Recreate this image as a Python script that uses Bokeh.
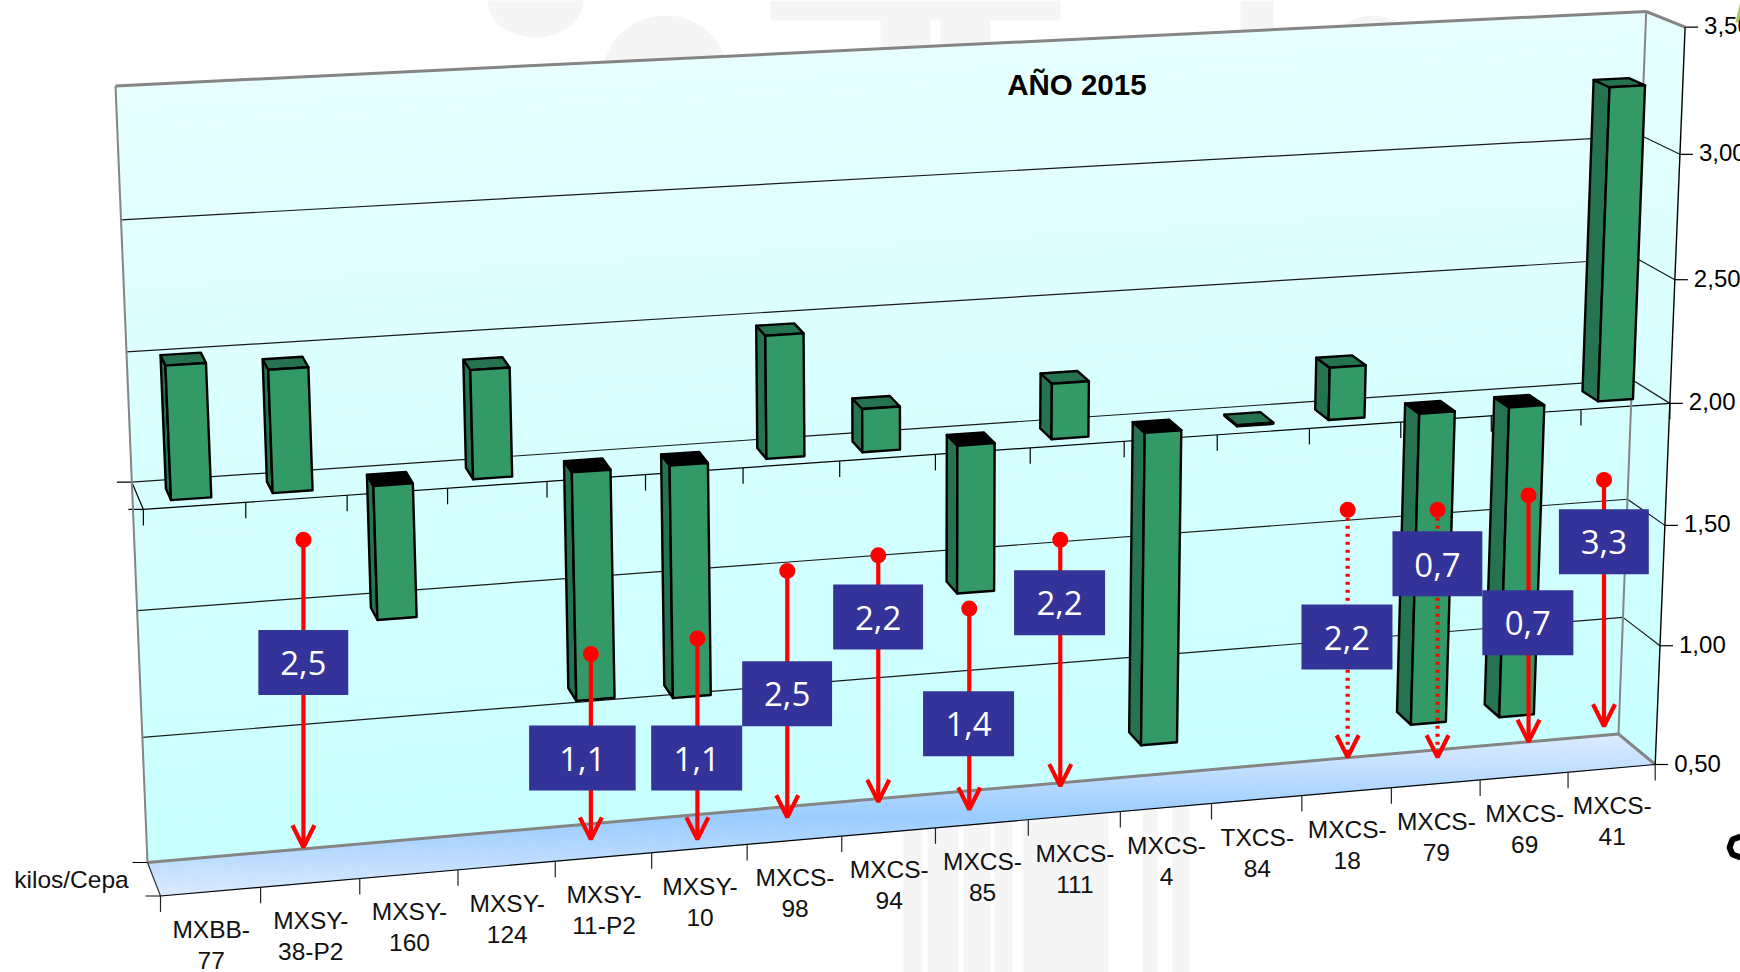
import numpy as np
from bokeh.plotting import figure
from bokeh.models import Range1d
from bokeh.core.properties import value
from bokeh.embed import file_html
from bokeh.resources import INLINE

# ---------- data ----------
categories = [("MXBB-", "77"), ("MXSY-", "38-P2"), ("MXSY-", "160"), ("MXSY-", "124"),
              ("MXSY-", "11-P2"), ("MXSY-", "10"), ("MXCS-", "98"), ("MXCS-", "94"),
              ("MXCS-", "85"), ("MXCS-", "111"), ("MXCS-", "4"), ("TXCS-", "84"),
              ("MXCS-", "18"), ("MXCS-", "79"), ("MXCS-", "69"), ("MXCS-", "41")]
kilos = [2.51, 2.47, 1.48, 2.42, 1.1, 1.08, 2.48, 2.17, 1.41, 2.22, 0.73, 2.005, 2.21, 0.72, 0.72, 3.26]
axis_base = 2.0
y_ticks = [0.5, 1.0, 1.5, 2.0, 2.5, 3.0, 3.5]
y_tick_labels = ["0,50", "1,00", "1,50", "2,00", "2,50", "3,00", "3,50"]
title_text = "AÑO 2015"
y_title = "kilos/Cepa"
note_labels = ["2,5", "1,1", "1,1", "2,5", "2,2", "1,4", "2,2", "2,2", "0,7", "0,7", "3,3"]
note_dotted = [False, False, False, False, False, False, False, True, True, False, False]

# ---------- hand-placed annotation layout (picture pixels) ----------
S = 1740 / 1568
note_x = [273, 532, 628, 709, 791, 873, 955, 1214, 1295, 1377, 1445]
note_top = [486, 589, 575, 514, 500, 548, 486, 459, 459, 446, 432]
note_tip = [763, 756, 756, 736, 722, 729, 708, 682, 682, 668, 654]
box_x0 = [233, 477, 587, 669, 751, 832, 914, 1173, 1255, 1336, 1405]
box_x1 = [314, 573, 669, 750, 832, 914, 996, 1255, 1336, 1418, 1486]
box_y0 = [568, 654, 654, 596, 527, 623, 514, 545, 479, 532, 459]

# ---------- 3D projection of the chart box ----------
def quad_h(q):
    (x0, y0), (x1, y1), (x2, y2), (x3, y3) = q
    dx1, dx2, sx = x1 - x2, x3 - x2, x0 - x1 + x2 - x3
    dy1, dy2, sy = y1 - y2, y3 - y2, y0 - y1 + y2 - y3
    det = dx1 * dy2 - dx2 * dy1
    g = (sx * dy2 - dx2 * sy) / det
    h = (dx1 * sy - sx * dy1) / det
    return np.array([[x1 - x0 + g * x1, x3 - x0 + h * x3, x0],
                     [y1 - y0 + g * y1, y3 - y0 + h * y3, y0],
                     [g, h, 1.0]])

BACK = quad_h([(147, 862), (1618, 733.5), (1645.7, 11), (115, 85.4)])
FRONT = quad_h([(160, 895.5), (1654.7, 764), (1684.6, 26.7), (125, 105)])

def _ap(H, u, t):
    r = H @ np.array([u, t, 1.0])
    return r[0] / r[2], r[1] / r[2]

def P(u, v, d=0.0):
    t = (v - 0.5) / 3.0
    fx, fy = _ap(FRONT, u, t)
    bx, by = _ap(BACK, u, t)
    return fx + (bx - fx) * d, fy + (by - fy) * d

def seg(p, a, b, **kw):
    p.line([a[0], b[0]], [a[1], b[1]], **kw)

def mix(c0, c1, f):
    a = np.array(c0, float) + (np.array(c1, float) - np.array(c0, float)) * f
    return "#%02x%02x%02x" % tuple(int(round(x)) for x in a)

p = figure(width=1740, height=972, output_backend="svg", toolbar_location=None,
           x_range=Range1d(0, 1740), y_range=Range1d(972, 0),
           x_axis_type=None, y_axis_type=None, min_border=0,
           outline_line_color=None, background_fill_color="white", border_fill_color="white")
p.grid.visible = False

# faint watermark
WM = "#f5f5f5"
stripes = [(903, 922), (927, 958), (963, 990), (994, 1012), (1023, 1108), (1142, 1157), (1172, 1189)]
p.quad(left=[a for a, b in stripes], right=[b for a, b in stripes], top=[790] * 7, bottom=[972] * 7,
       fill_color=WM, line_color=None)
p.ellipse(x=[535, 665, 1372], y=[2, 75, 40], width=[95, 125, 70], height=[70, 120, 50],
          fill_color=WM, line_color=None)
p.quad(left=[770, 880, 940, 1240], right=[1060, 930, 990, 1273], top=[0, 0, 0, 0], bottom=[20, 70, 70, 50],
       fill_color=WM, line_color=None)
p.patch([1735, 1740, 1740], [22, 0, 22], fill_color="#a9c95a", line_color=None)
p.line([1740, 1732, 1729, 1732, 1740], [836, 839, 847, 854, 857], line_color="black", line_width=6)

# back wall and right wall with gradient
TOPC, BOTC = (231, 255, 255), (200, 255, 255)
n = 40
for k in range(n):
    v0 = 0.5 + 3.0 * k / n
    v1 = 0.5 + 3.0 * (k + 1) / n
    c = mix(BOTC, TOPC, (k + 0.5) / n)
    q = [P(0, v0, 1), P(1, v0, 1), P(1, v1, 1), P(0, v1, 1)]
    p.patch([a[0] for a in q], [a[1] for a in q], fill_color=c, line_color=c, line_width=1)
    q = [P(1, v0, 1), P(1, v0, 0), P(1, v1, 0), P(1, v1, 1)]
    p.patch([a[0] for a in q], [a[1] for a in q], fill_color=c, line_color=c, line_width=1)

# floor gradient: depends on screen height
xs, ys, cs = [], [], []
NU, ND = 90, 8
for i in range(NU):
    for j in range(ND):
        q = [P(i / NU, .5, j / ND), P((i + 1) / NU, .5, j / ND),
             P((i + 1) / NU, .5, (j + 1) / ND), P(i / NU, .5, (j + 1) / ND)]
        xs.append([a[0] for a in q])
        ys.append([a[1] for a in q])
        yc = sum(a[1] for a in q) / 4
        f = min(1.0, abs(yc - 816) / 81)
        cs.append(mix((153, 204, 255), (220, 235, 255), f))
p.patches(xs, ys, fill_color=cs, line_color=cs, line_width=0.8)

# grid lines
GRID = "#1a1a1a"
for v in y_ticks[1:-1]:
    seg(p, P(0, v, 1), P(1, v, 1), line_color=GRID, line_width=1.2)
    seg(p, P(1, v, 1), P(1, v, 0), line_color=GRID, line_width=1.2)

# base plane of the bars (value 2.00)
seg(p, P(0, axis_base, 0), P(1, axis_base, 0), line_color="black", line_width=1.2)
seg(p, P(0, axis_base, 1), P(0, axis_base, 0), line_color="black", line_width=1.2)
for d in (0, 1):
    a = P(0, axis_base, d)
    seg(p, (a[0] - 15, a[1]), a, line_color="black", line_width=1.2)
for i in range(len(categories) + 1):
    a = P(i / 16, axis_base, 0)
    seg(p, a, (a[0], a[1] + 16), line_color="black", line_width=1.2)

# box edges
EDGE = "#858585"
seg(p, P(0, .5, 1), P(0, 3.5, 1), line_color=EDGE, line_width=2)
seg(p, P(1, .5, 1), P(1, 3.5, 1), line_color=EDGE, line_width=2)
seg(p, P(0, 3.5, 1), P(1, 3.5, 1), line_color=EDGE, line_width=3)
seg(p, P(0, .5, 1), P(1, .5, 1), line_color=EDGE, line_width=3)
seg(p, P(1, 3.5, 1), P(1, 3.5, 0), line_color=EDGE, line_width=3)
seg(p, P(1, .5, 1), P(1, .5, 0), line_color=EDGE, line_width=3)
seg(p, P(0, .5, 1), P(0, .5, 0), line_color="#333333", line_width=1.2)
seg(p, P(0, .5, 0), P(1, .5, 0), line_color="black", line_width=1.2)
for d in (0, 1):
    a = P(0, .5, d)
    seg(p, (a[0] - 15, a[1]), a, line_color="black", line_width=1.2)
for i in range(len(categories) + 1):
    a = P(i / 16, .5, 0)
    seg(p, a, (a[0], a[1] + 16), line_color="#222222", line_width=1.2)

# front value axis
seg(p, P(1, .5, 0), P(1, 3.5, 0), line_color="black", line_width=1.4)
for v, lab in zip(y_ticks, y_tick_labels):
    a = P(1, v, 0)
    seg(p, a, (a[0] + 13, a[1]), line_color="black", line_width=1.2)
    p.text([a[0] + 19], [a[1] - 1.5], text=[lab], text_font=value("Liberation Sans"), text_font_size="24px",
           text_align="left", text_baseline="middle", text_color="black")

# bars
FACE, SIDE = "#339966", "#267350"
U0, U1, D0, D1 = 0.30, 0.695, 0.265, 0.69
for i, val in enumerate(kilos):
    a, b = (i + U0) / 16, (i + U1) / 16
    hi, lo = max(val, axis_base), min(val, axis_base)
    top_col = SIDE if val >= axis_base else "black"
    polys = [
        ([P(a, lo, D0), P(a, hi, D0), P(a, hi, D1), P(a, lo, D1)], SIDE),
        ([P(a, hi, D0), P(b, hi, D0), P(b, hi, D1), P(a, hi, D1)], top_col),
        ([P(a, lo, D0), P(b, lo, D0), P(b, hi, D0), P(a, hi, D0)], FACE),
    ]
    for q, col in polys:
        p.patch([c[0] for c in q], [c[1] for c in q], fill_color=col, line_color="black",
                line_width=2.4, line_join="round")

# category labels
for i, (l1, l2) in enumerate(categories):
    a = P((i + .5) / 16, .5, 0)
    p.text([a[0] + 0.5, a[0] + 0.5], [a[1] + 37.5, a[1] + 68.5], text=[l1, l2], text_font=value("Liberation Sans"),
           text_font_size="24.5px", text_align="center", text_baseline="middle", text_color="#111111")

p.text([143 - 72], [879], text=[y_title], text_font=value("Liberation Sans"), text_font_size="24.5px",
       text_align="center", text_baseline="middle", text_color="#111111")
p.text([970 * S], [75.5 * S], text=[title_text], text_font=value("Liberation Sans"), text_font_size="29.5px",
       text_font_style="bold", text_align="center", text_baseline="middle", text_color="black")

# annotation arrows and boxes
RED = "#ff0000"
for x, t, b, dotted in zip(note_x, note_top, note_tip, note_dotted):
    x, t, b = x * S, t * S, b * S
    kw = dict(line_color=RED, line_width=4.2)
    if dotted:
        p.line([x, x], [t, b], line_dash="3 5", **kw)
    else:
        p.line([x, x], [t, b], **kw)
    p.line([x - 11, x, x + 11], [b - 22, b, b - 22], line_color=RED, line_width=4.2)
    p.scatter([x], [t], size=16, marker="circle", fill_color=RED, line_color=None)

for x0, x1, y0, lab in zip(box_x0, box_x1, box_y0, note_labels):
    x0, x1, y0 = x0 * S, x1 * S, y0 * S
    p.quad(left=[x0 - 0.7], right=[x1 - 0.7], top=[y0 - 0.7], bottom=[y0 + 64.3], fill_color="#333399", line_color=None)
    p.text([(x0 + x1) / 2 - 0.7], [y0 + 32.5], text=[lab], text_font=value("Open Sans"), text_font_size="33px",
           text_align="center", text_baseline="middle", text_color="white")

open("out.html", "w").write(file_html(p, INLINE))
